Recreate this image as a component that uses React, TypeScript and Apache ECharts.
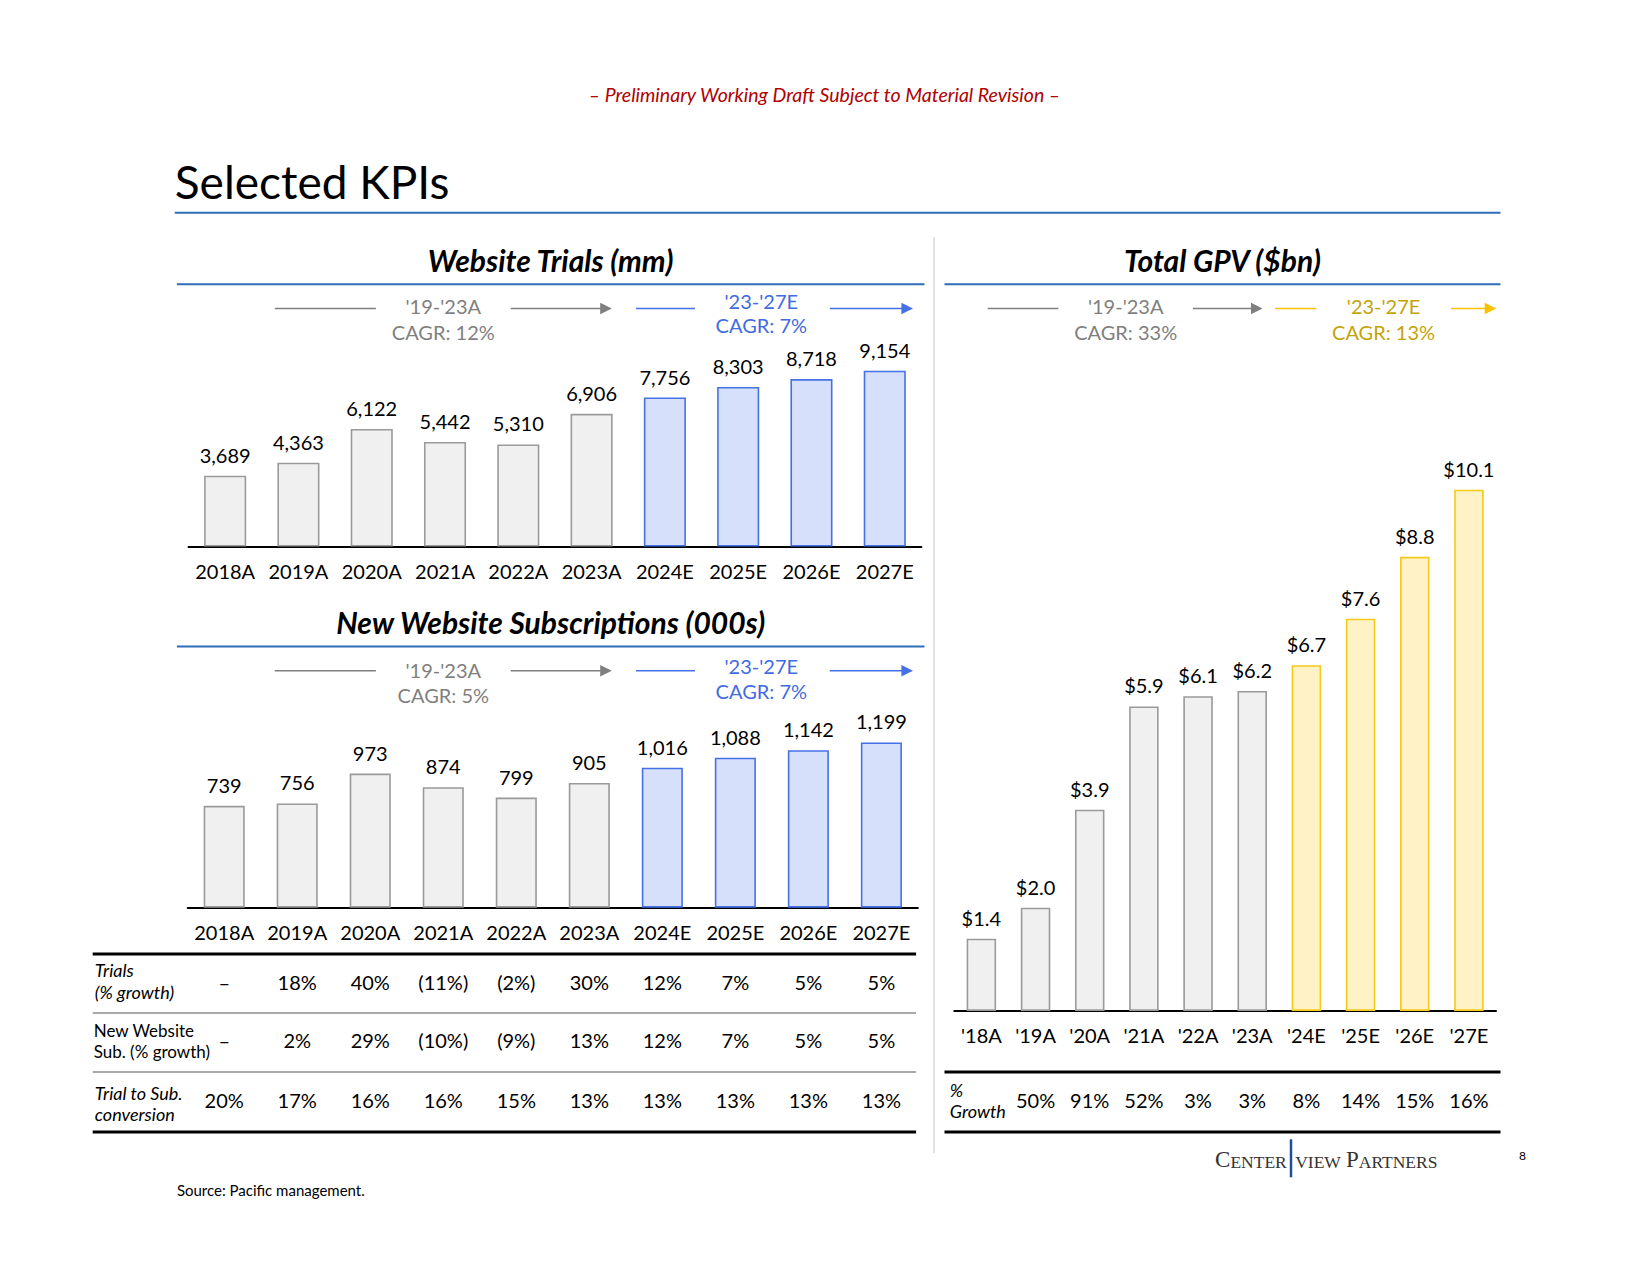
import React, { useEffect, useRef } from 'react';
import * as echarts from 'echarts';

// ---------- data ----------
const years = ['2018A', '2019A', '2020A', '2021A', '2022A', '2023A', '2024E', '2025E', '2026E', '2027E'];
const gpvYears = ["'18A", "'19A", "'20A", "'21A", "'22A", "'23A", "'24E", "'25E", "'26E", "'27E"];
const trials = [3689, 4363, 6122, 5442, 5310, 6906, 7756, 8303, 8718, 9154];
const subs = [739, 756, 973, 874, 799, 905, 1016, 1088, 1142, 1199];
const gpv = [1.4, 2.0, 3.9, 5.9, 6.1, 6.2, 6.7, 7.6, 8.8, 10.1];
const trialsGrowth = ['–', '18%', '40%', '(11%)', '(2%)', '30%', '12%', '7%', '5%', '5%'];
const subsGrowth = ['–', '2%', '29%', '(10%)', '(9%)', '13%', '12%', '7%', '5%', '5%'];
const conversion = ['20%', '17%', '16%', '16%', '15%', '13%', '13%', '13%', '13%', '13%'];
const gpvGrowth = ['', '50%', '91%', '52%', '3%', '3%', '8%', '14%', '15%', '16%'];

const trialsCagr = { hist: ["'19-'23A", 'CAGR: 12%'], est: ["'23-'27E", 'CAGR: 7%'] };
const subsCagr = { hist: ["'19-'23A", 'CAGR: 5%'], est: ["'23-'27E", 'CAGR: 7%'] };
const gpvCagr = { hist: ["'19-'23A", 'CAGR: 33%'], est: ["'23-'27E", 'CAGR: 13%'] };

// ---------- style ----------
const K = 1.053;
const P = (v: number) => Math.round(v * K * 10) / 10;
const FONT = 'Lato';
const GRAY_FILL = '#F0F0F0';
const GRAY_LINE = '#9A9A9A';
const BLUE_FILL = '#D6E0FB';
const BLUE_LINE = '#4472E6';
const GOLD_FILL = '#FFF2C7';
const GOLD_LINE = '#F5C91C';
const CAGR_GRAY = '#7F7F7F';
const CAGR_BLUE = '#3F6CE0';
const CAGR_GOLD = '#C4A30A';
const GOLD_ARROW = '#FFC000';
const SECTION_BLUE = '#2E6DB8';

const isEst = (i: number) => years[i].endsWith('E');

function barData(values: number[], fill: string, line: string) {
  return values.map((v, i) => ({
    value: v,
    itemStyle: isEst(i)
      ? { color: fill, borderColor: line, borderWidth: 1.6 }
      : { color: GRAY_FILL, borderColor: GRAY_LINE, borderWidth: 1.6 },
  }));
}

function txt(x: number, y: number, text: string, o: any = {}) {
  return {
    type: 'text',
    x: P(x),
    y: P(y),
    silent: true,
    style: {
      text,
      fill: o.fill || '#000',
      fontSize: o.fontSize || 20,
      fontFamily: o.fontFamily || FONT,
      fontStyle: o.fontStyle || 'normal',
      fontWeight: o.fontWeight || 'normal',
      textAlign: o.align || 'left',
      textVerticalAlign: 'middle',
      rich: o.rich,
    },
  };
}

function ln(x1: number, y1: number, x2: number, y2: number, color: string, w: number) {
  return {
    type: 'line',
    silent: true,
    shape: { x1: P(x1), y1: P(y1), x2: P(x2), y2: P(y2) },
    style: { stroke: color, lineWidth: w },
  };
}

function arrow(x1: number, x2: number, y: number, color: string) {
  return [
    ln(x1, y, x2 - 8, y, color, 1.6),
    {
      type: 'polygon',
      silent: true,
      shape: { points: [[P(x2), P(y)], [P(x2 - 11), P(y - 5.5)], [P(x2 - 11), P(y + 5.5)]] },
      style: { fill: color },
    },
  ];
}

function cagrBlock(
  y: number, histY: number[], estY: number[],
  hx: number[], estX: number[],
  labels: { hist: string[]; est: string[] },
  estLineColor: string, estTextColor: string
) {
  return [
    ln(hx[0], y, hx[1], y, CAGR_GRAY, 1.4),
    txt(hx[2], histY[0], labels.hist[0], { fill: CAGR_GRAY, align: 'center' }),
    txt(hx[2], histY[1], labels.hist[1], { fill: CAGR_GRAY, align: 'center' }),
    ...arrow(hx[3], hx[4], y, CAGR_GRAY),
    ln(estX[0], y, estX[1], y, estLineColor, 1.6),
    txt(estX[2], estY[0], labels.est[0], { fill: estTextColor, align: 'center' }),
    txt(estX[2], estY[1], labels.est[1], { fill: estTextColor, align: 'center' }),
    ...arrow(estX[3], estX[4], y, estLineColor),
  ];
}

const axisLabelBase = { color: '#000', fontSize: 20, fontFamily: FONT, margin: 14, interval: 0 };

function mainX(gridIndex: number, data: string[]) {
  return {
    type: 'category',
    gridIndex,
    data,
    axisLine: { lineStyle: { color: '#000', width: 2 } },
    axisTick: { show: false },
    axisLabel: { ...axisLabelBase },
  };
}

function rowX(gridIndex: number, data: string[], row: string[], offset: number) {
  return {
    type: 'category',
    gridIndex,
    data,
    position: 'bottom',
    offset,
    axisLine: { show: false },
    axisTick: { show: false },
    axisLabel: { ...axisLabelBase, formatter: (_v: string, idx: number) => row[idx] },
  };
}

const labelCfg = (fmt: (v: number) => string) => ({
  show: true,
  position: 'top',
  distance: 11,
  color: '#000',
  fontSize: 20,
  fontFamily: FONT,
  formatter: (p: any) => fmt(p.value),
});

const logoRich = {
  b: { fontSize: 23, fontFamily: 'Liberation Serif', fill: '#333', verticalAlign: 'bottom', lineHeight: 26 },
  s: { fontSize: 17.5, fontFamily: 'Liberation Serif', fill: '#333', verticalAlign: 'bottom', lineHeight: 26 },
};

export default function App() {
  const ref = useRef<HTMLDivElement>(null);
  useEffect(() => {
    document.body.style.margin = '0';
    const chart = echarts.init(ref.current!, undefined, { renderer: 'svg' });

    const graphics: any[] = [
      // header
      txt(783, 90, '– Preliminary Working Draft Subject to Material Revision –', {
        fill: '#B00000', fontStyle: 'italic', fontSize: 19.5, align: 'center',
      }),
      txt(166, 172, 'Selected KPIs', { fontSize: 46 }),
      ln(166, 202, 1425, 202, SECTION_BLUE, 2),
      // vertical separator
      ln(887, 225, 887, 1095, '#D9D9D9', 1.5),
      // section headers
      txt(523, 247, 'Website Trials (mm)', { fontSize: 30, fontWeight: 'bold', fontStyle: 'italic', align: 'center' }),
      ln(168, 270, 878, 270, SECTION_BLUE, 2),
      txt(523, 591, 'New Website Subscriptions (000s)', { fontSize: 30, fontWeight: 'bold', fontStyle: 'italic', align: 'center' }),
      ln(168, 614, 878, 614, SECTION_BLUE, 2),
      txt(1161, 247, 'Total GPV ($bn)', { fontSize: 30, fontWeight: 'bold', fontStyle: 'italic', align: 'center' }),
      ln(897, 270, 1425, 270, SECTION_BLUE, 2),
      // CAGR annotations
      ...cagrBlock(293, [291, 315], [286, 309], [261, 357, 421, 485, 581], [604, 660, 723, 788, 867], trialsCagr, BLUE_LINE, CAGR_BLUE),
      ...cagrBlock(637, [636, 660], [632, 656], [261, 357, 421, 485, 581], [604, 660, 723, 788, 867], subsCagr, BLUE_LINE, CAGR_BLUE),
      ...cagrBlock(293, [291, 315], [291, 315], [938, 1005, 1069, 1133, 1199], [1211, 1250, 1314, 1378, 1421], gpvCagr, GOLD_ARROW, CAGR_GOLD),
      // left table rules
      ln(88, 906, 870, 906, '#000', 3),
      ln(88, 962, 870, 962, '#8C8C8C', 1.5),
      ln(88, 1018, 870, 1018, '#8C8C8C', 1.5),
      ln(88, 1075, 870, 1075, '#000', 3),
      // left table labels
      txt(90, 921, 'Trials', { fontSize: 18, fontStyle: 'italic' }),
      txt(90, 942, '(% growth)', { fontSize: 18, fontStyle: 'italic' }),
      txt(89, 979, 'New Website', { fontSize: 17 }),
      txt(89, 999, 'Sub. (% growth)', { fontSize: 17 }),
      txt(90, 1038, 'Trial to Sub.', { fontSize: 18, fontStyle: 'italic' }),
      txt(90, 1058, 'conversion', { fontSize: 18, fontStyle: 'italic' }),
      // right table rules + labels
      ln(897, 1018, 1425, 1018, '#000', 3),
      ln(897, 1075, 1425, 1075, '#000', 3),
      txt(902, 1035, '%', { fontSize: 18, fontStyle: 'italic' }),
      txt(902, 1055, 'Growth', { fontSize: 18, fontStyle: 'italic' }),
      // footer
      txt(168, 1130, 'Source: Pacific management.', { fontSize: 15 }),
      txt(1446, 1097, '8', { fontSize: 12, align: 'center' }),
      txt(1222, 1100, '{b|C}{s|ENTER}', { align: 'right', fill: '#333', rich: logoRich }),
      txt(1230, 1100, '{s|VIEW} {b|P}{s|ARTNERS}', { align: 'left', fill: '#333', rich: logoRich }),
      ln(1226, 1082, 1226, 1118, '#1F4E9A', 2.5),
    ];

    const option: any = {
      animation: false,
      backgroundColor: '#fff',
      grid: [
        { left: P(179), top: P(336.6), width: P(696), height: P(182.4) },
        { left: P(178.3), top: P(678.7), width: P(693.4), height: P(183.3) },
        { left: P(906.3), top: P(421), width: P(514.4), height: P(539) },
      ],
      xAxis: [
        mainX(0, years),
        mainX(1, years),
        mainX(2, gpvYears),
        rowX(1, years, trialsGrowth, P(48)),
        rowX(1, years, subsGrowth, P(103)),
        rowX(1, years, conversion, P(160)),
        rowX(2, gpvYears, gpvGrowth, P(62)),
      ],
      yAxis: [
        { type: 'value', gridIndex: 0, min: 0, max: 10000, show: false },
        { type: 'value', gridIndex: 1, min: 0, max: 1400, show: false },
        { type: 'value', gridIndex: 2, min: 0, max: 11, show: false },
      ],
      series: [
        {
          type: 'bar', xAxisIndex: 0, yAxisIndex: 0, barWidth: P(40),
          data: barData(trials, BLUE_FILL, BLUE_LINE),
          label: labelCfg((v) => v.toLocaleString('en-US')),
        },
        {
          type: 'bar', xAxisIndex: 1, yAxisIndex: 1, barWidth: P(39),
          data: barData(subs, BLUE_FILL, BLUE_LINE),
          label: labelCfg((v) => v.toLocaleString('en-US')),
        },
        {
          type: 'bar', xAxisIndex: 2, yAxisIndex: 2, barWidth: P(28),
          data: barData(gpv, GOLD_FILL, GOLD_LINE),
          label: labelCfg((v) => '$' + v.toFixed(1)),
        },
      ],
      graphic: { elements: graphics },
    };
    chart.setOption(option);
    return () => chart.dispose();
  }, []);
  return <div ref={ref} style={{ width: 1650, height: 1275 }} />;
}
